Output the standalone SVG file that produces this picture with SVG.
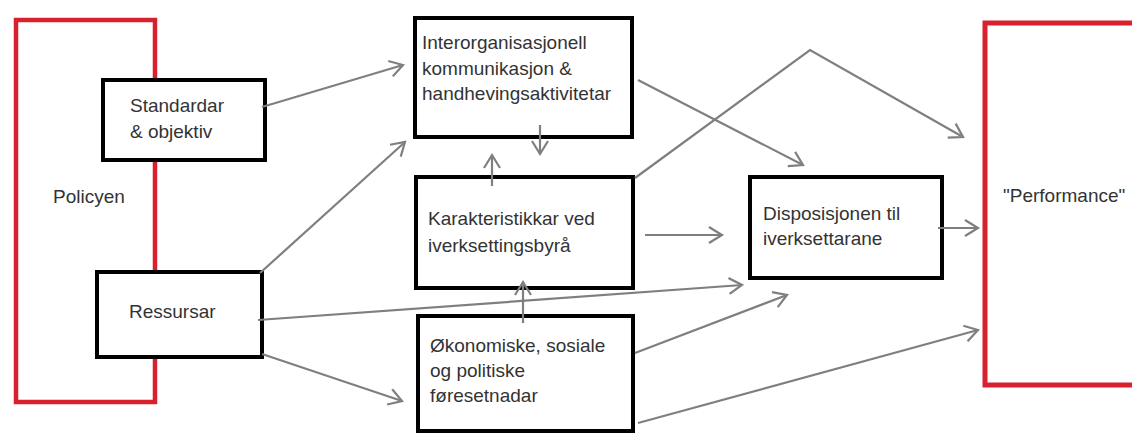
<svg xmlns="http://www.w3.org/2000/svg" width="1132" height="433" viewBox="0 0 1132 433">
<style>
.box{fill:#fff;stroke:#000;stroke-width:4}
.red{fill:none;stroke:#d8202e;stroke-width:4.5}
.t{font-family:"Liberation Sans",Arial,sans-serif;font-size:19px;fill:#333}
.c{fill:none;stroke:#7f7f7f;stroke-width:2.2;marker-end:url(#ah)}
</style>
<defs>
<marker id="ah" markerUnits="userSpaceOnUse" markerWidth="20" markerHeight="20" viewBox="-14 -10 16 20" refX="0" refY="0" orient="auto">
<path d="M-13,-8 L0,0 L-13,8" fill="none" stroke="#7f7f7f" stroke-width="2.2"/>
</marker>
</defs>
<rect width="1132" height="433" fill="#fff"/>
<g id="policyen">
<path class="red" d="M155,80 V20 H16 V402 H155 V357 M155,160 V272"/>
<text class="t" x="53" y="203">Policyen</text>
</g>
<g id="standardar">
<rect class="box" x="103" y="80" width="162" height="80"/>
<text class="t" x="130" y="112">Standardar</text>
<text class="t" x="130" y="138">&amp; objektiv</text>
</g>
<g id="ressursar">
<rect class="box" x="97" y="272" width="165" height="85"/>
<text class="t" x="129" y="318">Ressursar</text>
</g>
<g id="interorg">
<rect class="box" x="415" y="18" width="217" height="119"/>
<text class="t" x="422" y="49">Interorganisasjonell</text>
<text class="t" x="422" y="75">kommunikasjon &amp;</text>
<text class="t" x="422" y="100">handhevingsaktivitetar</text>
</g>
<g id="karakteristikkar">
<rect class="box" x="416" y="177" width="217" height="111"/>
<text class="t" x="428" y="225">Karakteristikkar ved</text>
<text class="t" x="428" y="252">iverksettingsbyrå</text>
</g>
<g id="okonomiske">
<rect class="box" x="418" y="316" width="215" height="115"/>
<text class="t" x="430" y="352">Økonomiske, sosiale</text>
<text class="t" x="430" y="377">og politiske</text>
<text class="t" x="430" y="402">føresetnadar</text>
</g>
<g id="disposisjonen">
<rect class="box" x="750" y="177" width="192" height="101"/>
<text class="t" x="763" y="220">Disposisjonen til</text>
<text class="t" x="763" y="245">iverksettarane</text>
</g>
<g id="performance">
<rect x="985" y="23" width="160" height="362" fill="#fff" stroke="#d8202e" stroke-width="5"/>
<text class="t" x="1003" y="202">"Performance"</text>
</g>
<g id="connectors">
<path class="c" d="M262,107 L403,65"/>
<path class="c" d="M260,273 L405,142"/>
<path class="c" d="M258,320 L742,285"/>
<path class="c" d="M262,354 L402,401"/>
<path class="c" d="M540,125 L540,154"/>
<path class="c" d="M492,186 L492,155"/>
<path class="c" d="M523,323 L523,282"/>
<path class="c" d="M638,80 L803,165"/>
<path class="c" d="M635,178 L810,50 L963,137"/>
<path class="c" d="M645,235 L722,235"/>
<path class="c" d="M635,353 L787,295"/>
<path class="c" d="M638,423 L978,330"/>
<path class="c" d="M938,228 L978,228"/>
</g>
</svg>
